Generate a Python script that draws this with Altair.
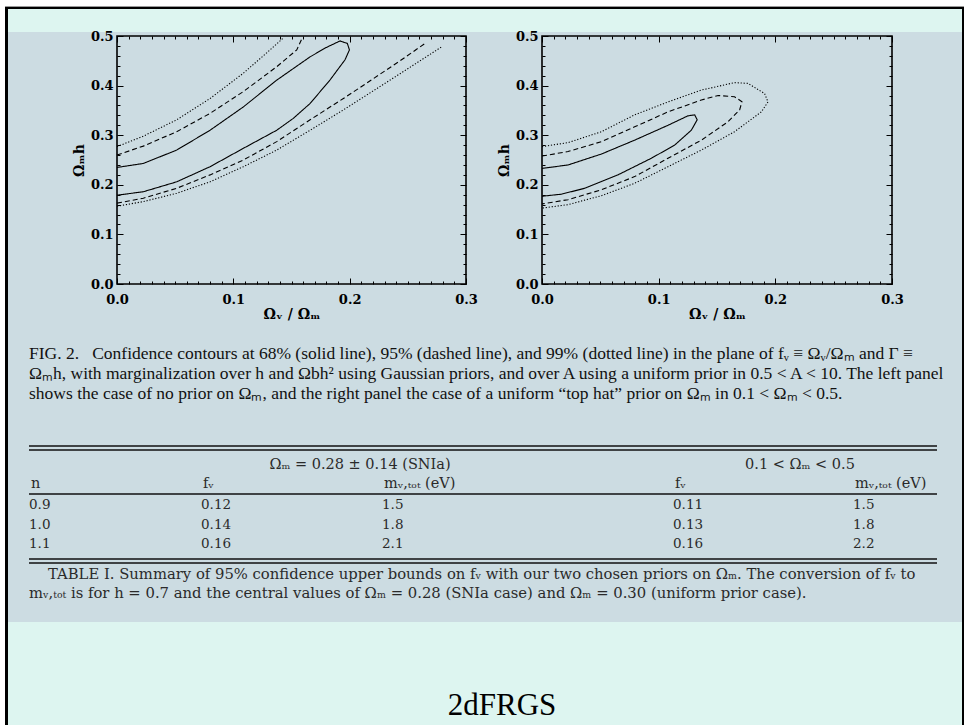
import altair as alt
import pandas as pd

W, H = 966, 725

# ---------------- contour data: left panel (no prior on Omega_m) ----------------
L68_x = [0, 0.0226, 0.0513, 0.080, 0.1086, 0.1373, 0.166, 0.180, 0.1917, 0.198, 0.1998, 0.196,
         0.183, 0.166, 0.1516, 0.1373, 0.1086, 0.080, 0.0513, 0.0226, 0]
L68_y = [0.235, 0.243, 0.270, 0.310, 0.357, 0.411, 0.458, 0.477, 0.490, 0.485, 0.472, 0.452,
         0.411, 0.364, 0.334, 0.310, 0.2735, 0.2365, 0.206, 0.186, 0.179]
L95u_x = [0, 0.0226, 0.0513, 0.080, 0.1086, 0.1373, 0.1545, 0.1588]
L95u_y = [0.260, 0.278, 0.307, 0.344, 0.388, 0.438, 0.472, 0.494]
L95l_x = [0, 0.0226, 0.0513, 0.080, 0.1086, 0.1373, 0.166, 0.1946, 0.214, 0.2433, 0.2648]
L95l_y = [0.163, 0.173, 0.193, 0.220, 0.250, 0.287, 0.331, 0.374, 0.404, 0.450, 0.485]
L99u_x = [0, 0.0226, 0.0513, 0.080, 0.1086, 0.1316, 0.143]
L99u_y = [0.277, 0.298, 0.331, 0.374, 0.425, 0.472, 0.496]
L99l_x = [0, 0.0226, 0.0513, 0.080, 0.1086, 0.1373, 0.166, 0.1946, 0.214, 0.2433, 0.279]
L99l_y = [0.157, 0.166, 0.183, 0.206, 0.2365, 0.270, 0.310, 0.351, 0.380, 0.424, 0.478]

# ---------------- contour data: right panel (top-hat prior on Omega_m) ----------------
R68_x = [0, 0.0223, 0.0509, 0.0794, 0.108, 0.125, 0.1309, 0.133, 0.128, 0.1137, 0.0937,
         0.0651, 0.0366, 0.0166, 0]
R68_y = [0.233, 0.240, 0.262, 0.290, 0.320, 0.339, 0.341, 0.331, 0.310, 0.280, 0.2535,
         0.220, 0.193, 0.181, 0.177]
R95_x = [0, 0.0223, 0.0509, 0.0794, 0.108, 0.1366, 0.151, 0.165, 0.1714, 0.1694, 0.1594,
         0.1366, 0.108, 0.0794, 0.0509, 0.0223, 0]
R95_y = [0.258, 0.267, 0.287, 0.317, 0.347, 0.371, 0.380, 0.3775, 0.3675, 0.351, 0.327,
         0.290, 0.2535, 0.2165, 0.190, 0.170, 0.1615]
R99_x = [0, 0.0223, 0.0509, 0.0794, 0.108, 0.1366, 0.165, 0.1765, 0.1908, 0.1937, 0.188,
         0.165, 0.1366, 0.108, 0.0794, 0.0509, 0.0223, 0]
R99_y = [0.277, 0.285, 0.307, 0.341, 0.367, 0.391, 0.406, 0.4045, 0.384, 0.367, 0.347,
         0.307, 0.270, 0.2365, 0.203, 0.178, 0.160, 0.153]

LEVELS = ["68%", "95%", "99%"]

# ---------------- axis ticks / labels ----------------
X_MAJOR = [0.0, 0.1, 0.2, 0.3]
Y_MAJOR = [0.0, 0.1, 0.2, 0.3, 0.4, 0.5]
X_MINOR = [round(k * 0.01, 2) for k in range(31)]
Y_MINOR = [round(k * 0.02, 2) for k in range(26)]
X_TITLE = "Ωᵥ / Ωₘ"
Y_TITLE = "Ωₘh"

# ---------------- text ----------------
CAPTION = [
    "FIG. 2.\u00a0\u00a0 Confidence contours at 68% (solid line), 95% (dashed line), and 99% (dotted line) in the plane of fᵥ ≡ Ωᵥ/Ωₘ and Γ ≡",
    "Ωₘh, with marginalization over h and Ωbh² using Gaussian priors, and over A using a uniform prior in 0.5 < A < 10. The left panel",
    "shows the case of no prior on Ωₘ, and the right panel the case of a uniform “top hat” prior on Ωₘ in 0.1 < Ωₘ < 0.5.",
]
TABLE_HEAD_1 = ["Ωₘ = 0.28 ± 0.14 (SNIa)", "0.1 < Ωₘ < 0.5"]
TABLE_HEAD_2 = ["n", "fᵥ", "mᵥ,ₜₒₜ (eV)", "fᵥ", "mᵥ,ₜₒₜ (eV)"]
n_vals = ["0.9", "1.0", "1.1"]
f_snia = ["0.12", "0.14", "0.16"]
m_snia = ["1.5", "1.8", "2.1"]
f_tophat = ["0.11", "0.13", "0.16"]
m_tophat = ["1.5", "1.8", "2.2"]
TABLE_CAPTION = [
    "TABLE I.  Summary of 95% confidence upper bounds on fᵥ with our two chosen priors on Ωₘ.  The conversion of fᵥ to",
    "mᵥ,ₜₒₜ is for h = 0.7 and the central values of Ωₘ = 0.28 (SNIa case) and Ωₘ = 0.30 (uniform prior case).",
]
FOOTER = "2dFRGS"

# ---------------- colors / fonts ----------------
CYAN = "#DDF5F0"
GREYBLUE = "#CCDCE2"
SERIF = "Liberation Serif"
TSERIF = "DejaVu Serif"
AXFONT = "DejaVu Serif"
TCOLOR = "#2a2a2a"

PLOT_TOP, PLOT_BOTTOM = 36, 284
LEFT_RANGE = [117, 466]
RIGHT_RANGE = [542, 892]


def seg_df(xs, ys, level, seg):
    return pd.DataFrame({"x": xs, "y": ys, "level": level, "seg": seg, "i": list(range(len(xs)))})


left_df = pd.concat([
    seg_df(L68_x, L68_y, "68%", "a"),
    seg_df(L95u_x, L95u_y, "95%", "b"),
    seg_df(L95l_x, L95l_y, "95%", "c"),
    seg_df(L99u_x, L99u_y, "99%", "d"),
    seg_df(L99l_x, L99l_y, "99%", "e"),
], ignore_index=True)
right_df = pd.concat([
    seg_df(R68_x, R68_y, "68%", "a"),
    seg_df(R95_x, R95_y, "95%", "b"),
    seg_df(R99_x, R99_y, "99%", "c"),
], ignore_index=True)

one = pd.DataFrame({"a": [0]})


def tick_size():
    return {"condition": {"test": "abs(datum.value*10 - round(datum.value*10)) < 0.001", "value": 6},
            "value": 3}


def tick_axis(orient, offset, values):
    return alt.Axis(orient=orient, offset=offset, values=values, tickSize=tick_size(),
                    ticks=True, tickColor="black", tickWidth=1, labels=False, domain=False,
                    grid=False, title="", zindex=2)


def panel(df, rng):
    x0, x1 = rng
    xsc = alt.Scale(domain=[0, 0.3], range=[x0, x1], nice=False, zero=False)
    ysc = alt.Scale(domain=[0, 0.5], range=[PLOT_BOTTOM, PLOT_TOP], nice=False, zero=False)
    lines = alt.Chart(df).mark_line(color="black", strokeWidth=1.1).encode(
        x=alt.X("x:Q", scale=xsc, axis=alt.Axis(
            orient="bottom", offset=PLOT_BOTTOM - H, values=X_MAJOR, format=".1f", ticks=False,
            tickSize=0, domain=False, grid=False, labelFlush=False, labelOverlap=False,
            labelFont=AXFONT, labelFontSize=13, labelFontWeight="bold", labelColor="black",
            labelPadding=9, title=X_TITLE, titleFont=AXFONT, titleFontSize=14,
            titleFontWeight="bold", titleColor="black", titlePadding=1, zindex=2)),
        y=alt.Y("y:Q", scale=ysc, axis=alt.Axis(
            orient="left", offset=-x0, values=Y_MAJOR, format=".1f", ticks=False, tickSize=0,
            domain=False, grid=False, labelFlush=False, labelOverlap=False,
            labelFont=AXFONT, labelFontSize=13, labelFontWeight="bold", labelColor="black",
            labelPadding=4, title=Y_TITLE, titleFont=AXFONT, titleFontSize=14,
            titleFontWeight="bold", titleColor="black", titlePadding=4, zindex=2)),
        detail="seg:N",
        order="i:Q",
        strokeDash=alt.StrokeDash("level:N", scale=alt.Scale(
            domain=LEVELS, range=[[1, 0], [5, 3], [1.2, 1.8]]), legend=None),
    )
    frame_df = pd.DataFrame({"x0": [0.0], "x1": [0.3], "y0": [0.0], "y1": [0.5]})
    frame = alt.Chart(frame_df).mark_rect(fillOpacity=0, stroke="black", strokeWidth=1.6).encode(
        x=alt.X("x0:Q", scale=xsc, axis=tick_axis("top", -PLOT_BOTTOM, X_MINOR)),
        x2="x1:Q",
        y=alt.Y("y0:Q", scale=ysc, axis=tick_axis("right", x0 - W, Y_MINOR)),
        y2="y1:Q",
    )
    ghost = alt.Chart(frame_df).mark_point(opacity=0).encode(
        x=alt.X("x1:Q", scale=xsc, axis=tick_axis("bottom", PLOT_TOP - H, X_MINOR)),
        y=alt.Y("y1:Q", scale=ysc, axis=tick_axis("left", -x1, Y_MINOR)),
    )
    return [lines, frame, ghost]


def box(x, x2, y, y2, color):
    return alt.Chart(one).mark_rect(color=color).encode(
        x=alt.value(x), x2=alt.value(x2), y=alt.value(y), y2=alt.value(y2))


def rule(y):
    return alt.Chart(one).mark_rule(color="#111111", strokeWidth=1.3).encode(
        x=alt.value(29), x2=alt.value(937), y=alt.value(y))


def label(text, x, y, align="left", size=14.5, color=TCOLOR, font=TSERIF):
    return alt.Chart(one).mark_text(text=text, align=align, baseline="alphabetic", font=font,
                                    fontSize=size, color=color).encode(
        x=alt.value(x), y=alt.value(y))


layers = [
    box(8, 963, 9, 725, CYAN),
    box(8, 963, 32, 622, GREYBLUE),
    box(5, 964, 6, 7, "#999999"),
    box(5, 964, 7, 9, "black"),
    box(5, 8, 7, 725, "black"),
    box(962, 964, 7, 725, "black"),
]

# figure caption
cap_df = pd.DataFrame({"t": CAPTION, "k": list(range(len(CAPTION)))})
layers.append(alt.Chart(cap_df).mark_text(align="left", baseline="alphabetic", font=SERIF,
                                          fontSize=17.5, color="#111111").encode(
    x=alt.value(29),
    y=alt.Y("k:Q", scale=alt.Scale(domain=[0, 2], range=[359, 399]), axis=None),
    text="t:N"))

# table
for yy in [446, 450, 494, 559, 563]:
    layers.append(rule(yy))
layers.append(label(TABLE_HEAD_1[0], 360, 469, align="center"))
layers.append(label(TABLE_HEAD_1[1], 800, 469, align="center"))
COLS_X = [31, 203, 384, 675, 855]
for cx, h in zip(COLS_X, TABLE_HEAD_2):
    layers.append(label(h, cx, 488))
for cx, vals in zip(COLS_X, [n_vals, f_snia, m_snia, f_tophat, m_tophat]):
    vdf = pd.DataFrame({"v": vals, "r": list(range(len(vals)))})
    layers.append(alt.Chart(vdf).mark_text(align="left", baseline="alphabetic", font=TSERIF,
                                           fontSize=13.5, color=TCOLOR).encode(
        x=alt.value(cx - 2),
        y=alt.Y("r:Q", scale=alt.Scale(domain=[0, 2], range=[509, 548]), axis=None),
        text="v:N"))
layers.append(label(TABLE_CAPTION[0], 48, 579, size=14.8))
layers.append(label(TABLE_CAPTION[1], 29, 598, size=14.8))

# footer
layers.append(label(FOOTER, 502, 715, align="center", size=31, color="black", font=SERIF))

# panels
layers += panel(left_df, LEFT_RANGE)
layers += panel(right_df, RIGHT_RANGE)

chart = alt.layer(*layers).resolve_scale(
    x="independent", y="independent"
).properties(
    width=W, height=H, padding=0, background="white",
    autosize=alt.AutoSizeParams(type="none"),
).configure_view(strokeWidth=0)

chart.save("out.html", embed_options={"renderer": "svg", "actions": False})
